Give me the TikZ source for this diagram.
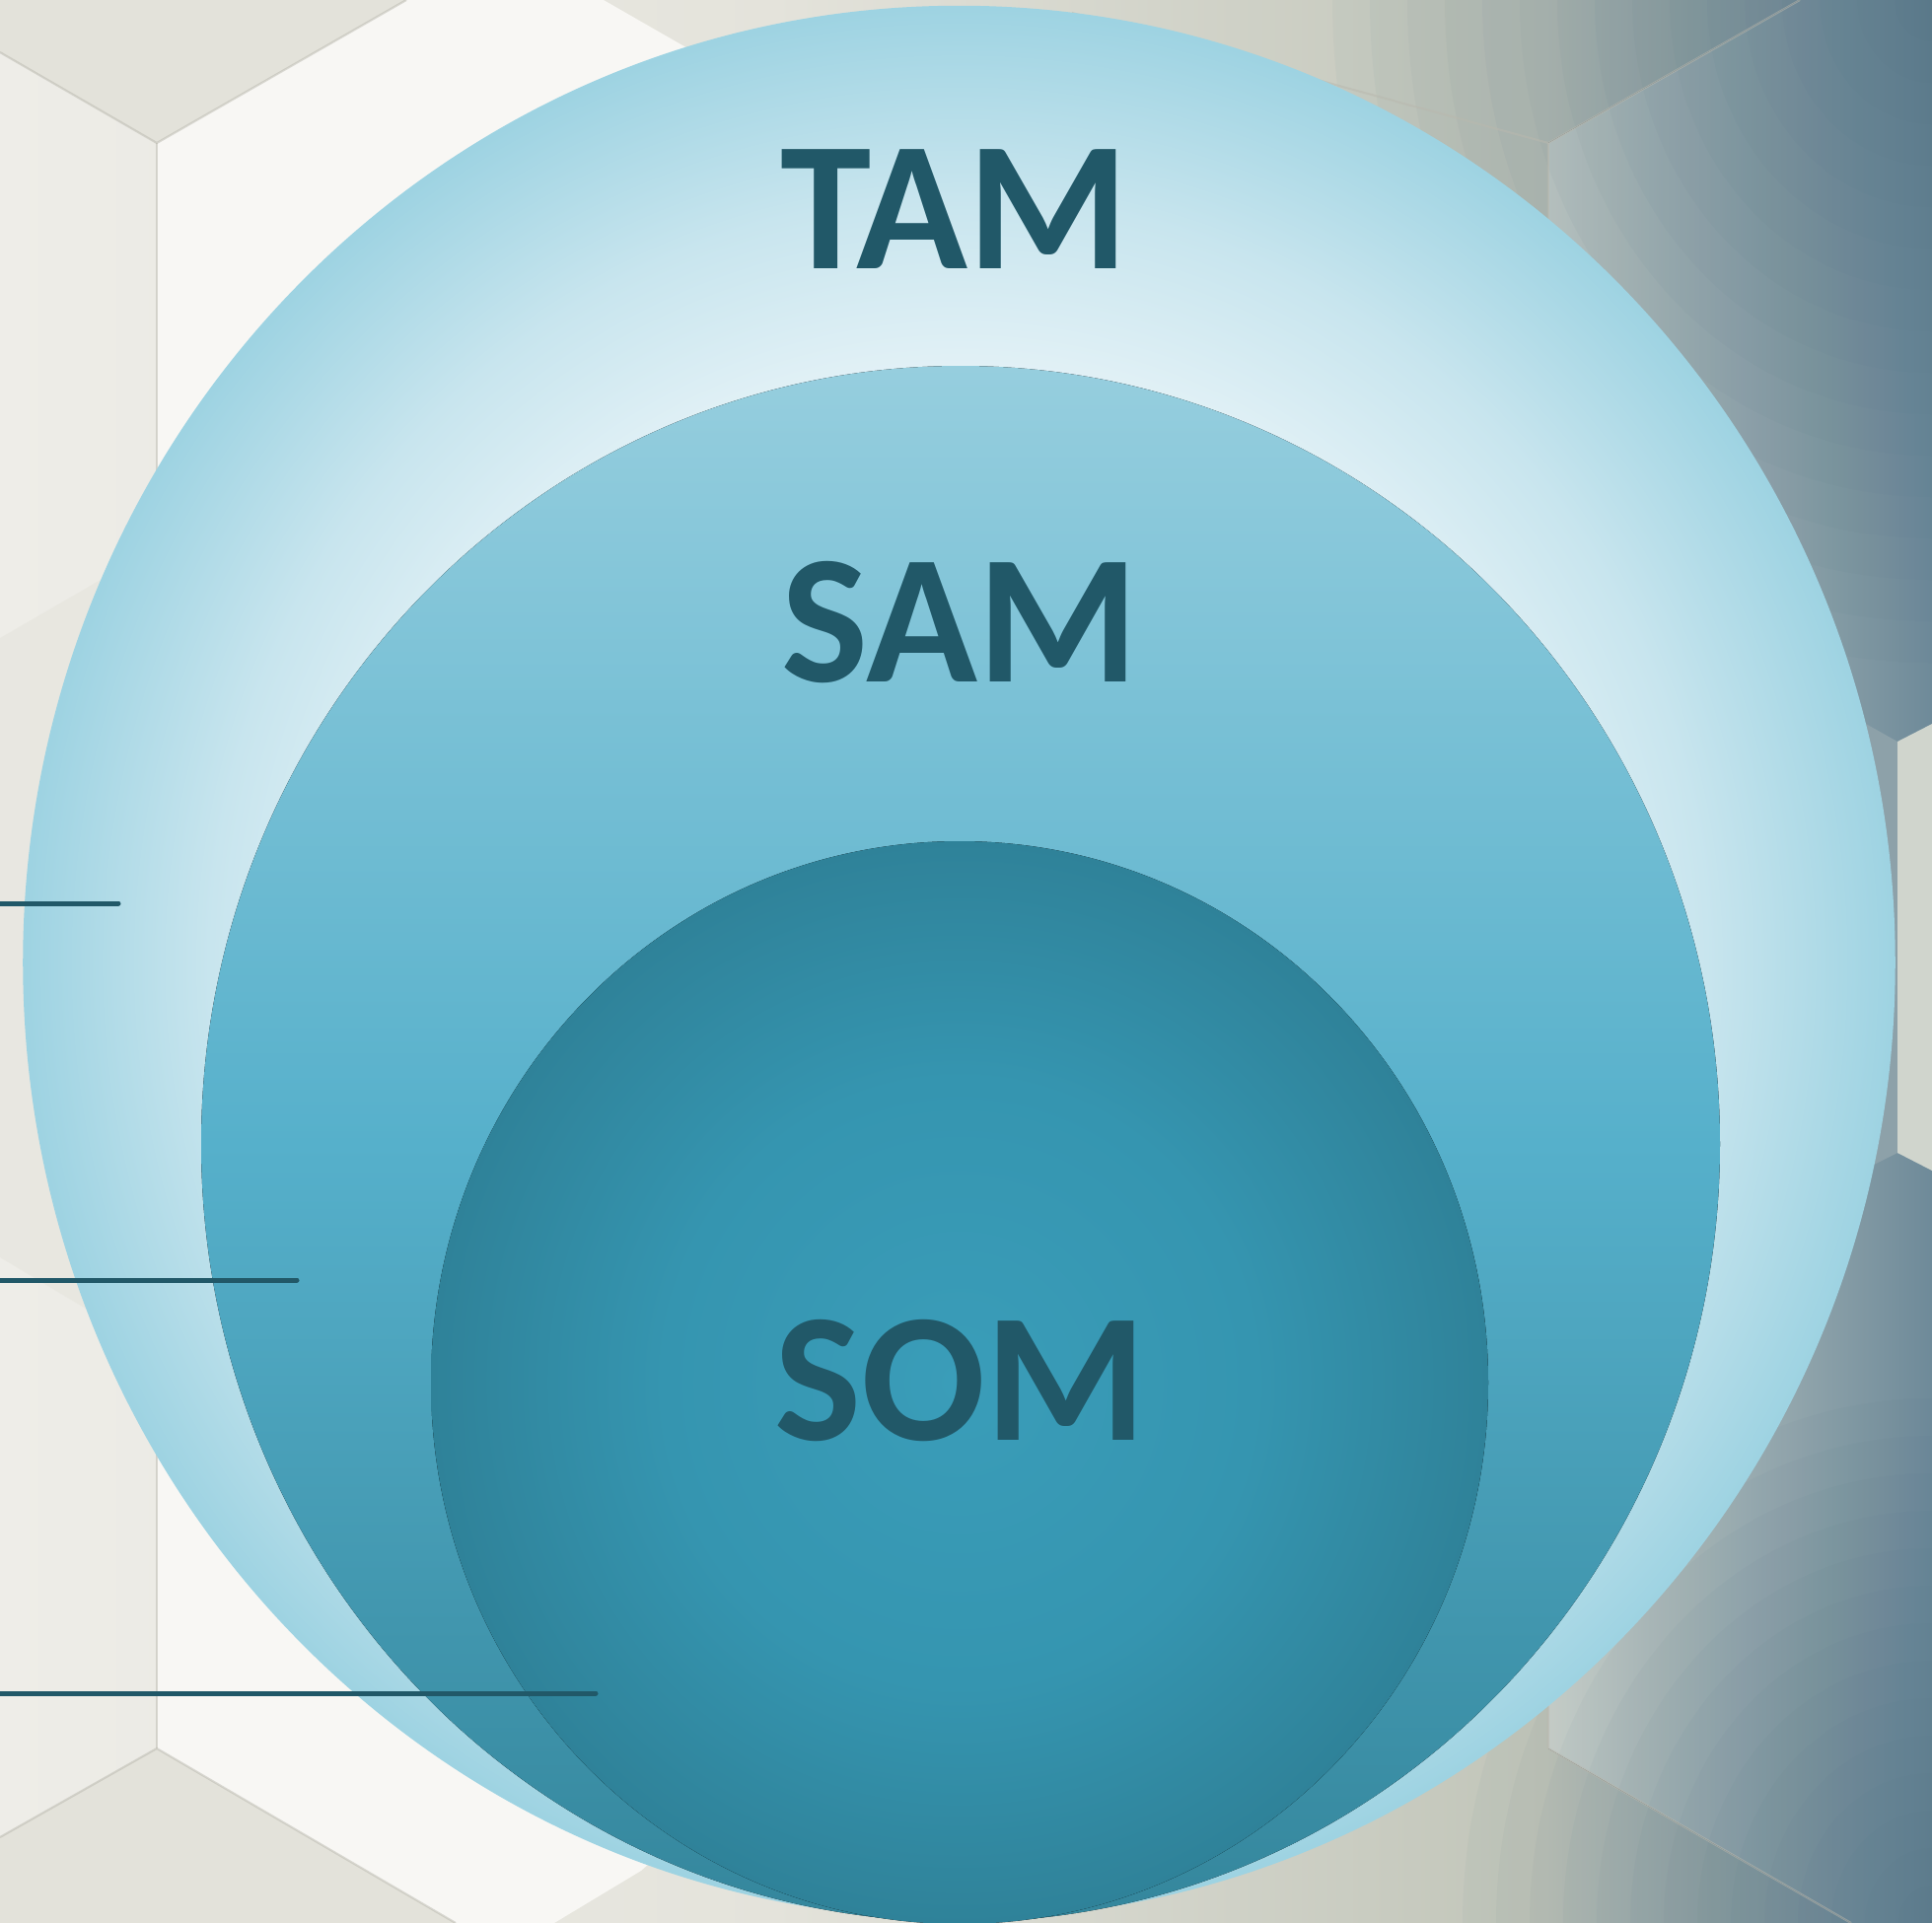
\documentclass[tikz,border=0pt]{standalone}
\usepackage{fontspec}
\newfontfamily\marketfont{Carlito}
\usetikzlibrary{calc}

\definecolor{labelteal}{HTML}{215868}
\definecolor{wallA}{HTML}{EEEDE8}
\definecolor{wallB}{HTML}{E4E3DB}
\definecolor{wallC}{HTML}{C1C5B9}
\definecolor{wallE}{HTML}{6E8A99}
\definecolor{wallDark}{HTML}{4F7185}
\definecolor{wallTop}{HTML}{E3E2DA}
\definecolor{wallWhite}{HTML}{F8F7F4}
\definecolor{wallFace}{HTML}{D0D5CD}
\definecolor{wallStrip}{HTML}{8DA1A9}
\definecolor{wallEdge}{HTML}{B9B8AE}
\definecolor{tamIn}{HTML}{F0F8FB}
\definecolor{tamMid}{HTML}{E2F1F6}
\definecolor{tamRim}{HTML}{C8E5EE}
\definecolor{tamOut}{HTML}{9ED3E2}
\definecolor{samTop}{HTML}{96CEDE}
\definecolor{samMid}{HTML}{56B0CB}
\definecolor{samBot}{HTML}{34869C}
\definecolor{somIn}{HTML}{3A9DB9}
\definecolor{somMid}{HTML}{3595B0}
\definecolor{somOut}{HTML}{2F8299}

\pgfdeclarehorizontalshading{wallshade}{100bp}{color(0bp)=(wallA); color(25bp)=(wallA); color(45bp)=(wallB); color(65bp)=(wallC); color(75bp)=(wallE); color(100bp)=(wallE)}
\pgfdeclareradialshading{tamshade}{\pgfpoint{0bp}{0bp}}{color(0bp)=(tamIn); color(12bp)=(tamIn); color(15.5bp)=(tamMid); color(20bp)=(tamRim); color(25bp)=(tamOut); color(50bp)=(tamOut)}
\pgfdeclareverticalshading{samshade}{100bp}{color(0bp)=(samBot); color(25bp)=(samBot); color(50bp)=(samMid); color(75bp)=(samTop); color(100bp)=(samTop)}
\pgfdeclareradialshading{somshade}{\pgfpoint{0bp}{0bp}}{color(0bp)=(somIn); color(14bp)=(somMid); color(25bp)=(somOut); color(50bp)=(somOut)}

\tikzset{
	marketname/.style={text=labelteal, inner sep=0pt, font=\marketfont\bfseries\fontsize{53}{60}\selectfont},
	leader/.style={line width=0.05cm, color=labelteal, line cap=round},
	hexedge/.style={line width=0.6pt, color=wallEdge, opacity=0.5},
	corner/.style={wallDark, opacity=0.045}
}

\begin{document}
\begin{tikzpicture}[x=0.01cm, y=-0.01cm]
			%%%%% START %%%%%
			\useasboundingbox (0, 0) rectangle (1959, 1950);
			
			% wall behind
			\fill[shading=wallshade] (0, 0) rectangle (1959, 1950);
			\fill[wallTop] (0, 0) -- (412, 0) -- (159, 145) -- (0, 53) -- cycle;
			\fill[wallTop] (0, 1863) -- (159, 1773) -- (462, 1950) -- (0, 1950) -- cycle;
			\fill[wallB, opacity=0.5] (0, 647) -- (159, 555) -- (159, 1370) -- (0, 1275) -- cycle;
			\fill[wallWhite] (159, 145) -- (412, 0) -- (612, 0) -- (760, 85) -- (760, 1800) -- (650, 1897) -- (562, 1950) -- (462, 1950) -- (159, 1773) -- cycle;
			\fill[left color=wallFace, right color=wallE] (1570, 145) -- (1825, 0) -- (1959, 0) -- (1959, 1950) -- (1877, 1950) -- (1570, 1773) -- cycle;
			\fill[wallStrip] (1892, 734) -- (1924, 752) -- (1924, 1169) -- (1892, 1185) -- cycle;
			\fill[wallFace] (1924, 752) -- (1959, 734) -- (1959, 1187) -- (1924, 1169) -- cycle;
			\foreach \k in {1,...,16}
				\fill[corner] (1959, 0) ellipse [x radius=38*\k, y radius=42*\k];
			\foreach \k in {1,...,14}
				\fill[corner] (1959, 1950) ellipse [x radius=34*\k, y radius=38*\k];
			
			\draw[hexedge] (0, 53) -- (159, 145) -- (412, 0);
			\draw[hexedge] (159, 145) -- (159, 1773);
			\draw[hexedge] (0, 1863) -- (159, 1773) -- (462, 1950);
			\draw[hexedge] (1087, 13) -- (1570, 145) -- (1825, 0);
			\draw[hexedge] (1570, 145) -- (1570, 1773) -- (1877, 1950);
			
			% the three markets
			\coordinate (tamc) at (972.5, 976);
			\coordinate (samc) at (974, 1160);
			\coordinate (somc) at (973, 1402);
			
			\fill[shading=tamshade] (tamc) ellipse [x radius=947.5, y radius=968.5];
			\draw[tamOut, line width=1pt] (tamc) ellipse [x radius=947.5, y radius=968.5];
			\fill[shading=samshade] (samc) ellipse [x radius=770, y radius=789];
			\fill[shading=somshade] (somc) ellipse [x radius=536, y radius=549];
			
			\node[marketname] (tam) at (968, 212) {TAM};
			\node[marketname] (sam) at (973, 631) {SAM};
			\node[marketname] (som) at (974, 1400) {SOM};
			
			% leader lines
			\coordinate (tamfrom) at (0, 916);
			\coordinate (tamto) at (120, 916);
			\coordinate (samfrom) at (0, 1298);
			\coordinate (samto) at (301, 1298);
			\coordinate (somfrom) at (0, 1717);
			\coordinate (somto) at (604, 1717);
			
			\draw[leader] (tamfrom) -- (tamto);
			\draw[leader] (samfrom) -- (samto);
			\draw[leader] (somfrom) -- (somto);
			
			%%%%% END %%%%%
		\end{tikzpicture}
\end{document}
